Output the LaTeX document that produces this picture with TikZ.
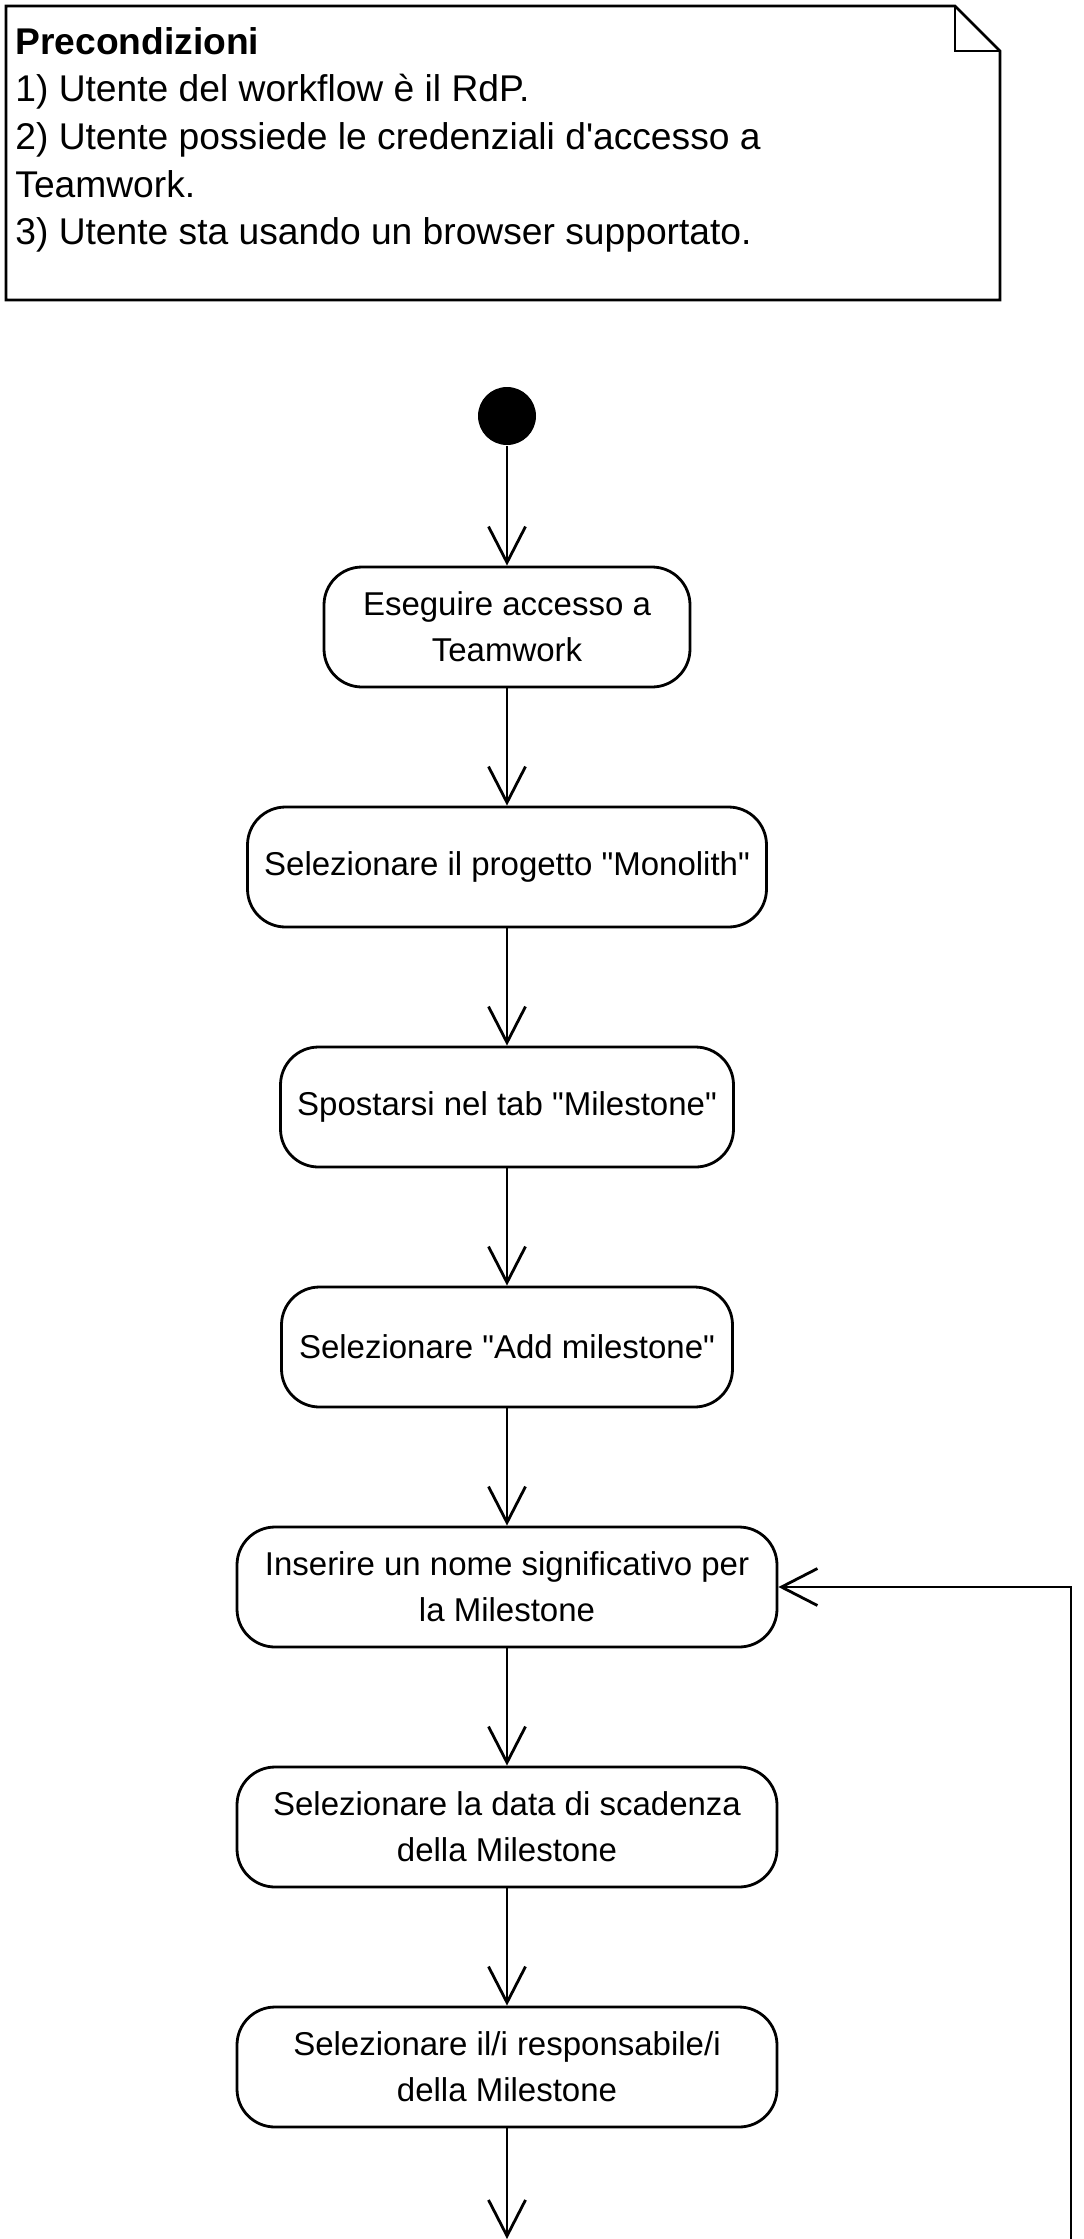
\documentclass[tikz,border=0pt]{standalone}
\usepackage{fontspec}
\setmainfont{Liberation Sans}
\usetikzlibrary{positioning,arrows.meta}

\begin{document}
\begin{tikzpicture}[
      x=0.5pt,
      y=-0.5pt,
      node distance=120pt,
      line width=1.4pt,
      attivita/.style={
        draw,
        rounded corners=19pt,
        minimum height=60pt,
        inner sep=0pt,
        align=center,
        font=\fontsize{16.5}{23}\selectfont
      },
      inizio/.style={
        circle,
        fill,
        minimum size=29pt,
        inner sep=0pt
      },
      freccia/.style={
        -{Straight Barb[length=18pt,width=18.5pt]}
      }
    ]
    \useasboundingbox (0,0) rectangle (1083,2239);
    \draw (6,6) -- (955,6) -- (1000,51) -- (1000,300) -- (6,300) -- cycle;
    \draw (955,6) -- (955,51) -- (1000,51);
    \node[anchor=north west, inner sep=0pt, align=left,
      font=\fontsize{18.6}{23.8}\selectfont] (prec) at (14,26)
      {\textbf{Precondizioni}\\
       1) Utente del workflow è il RdP.\\
       2) Utente possiede le credenziali d\textquotesingle accesso a\\
       Teamwork.\\
       3) Utente sta usando un browser supportato.};
    \node[inizio] (init) at (507,416) {};
    \node[attivita, minimum width=183pt] (a1) at (507,627) {Eseguire accesso a\\Teamwork};
    \node[attivita, minimum width=259.5pt, below of=a1] (a2) {Selezionare il progetto \textquotedbl Monolith\textquotedbl};
    \node[attivita, minimum width=226.5pt, below of=a2] (a3) {Spostarsi nel tab \textquotedbl Milestone\textquotedbl};
    \node[attivita, minimum width=225.5pt, below of=a3] (a4) {Selezionare \textquotedbl Add milestone\textquotedbl};
    \node[attivita, minimum width=270pt, below of=a4] (a5) {Inserire un nome significativo per\\la Milestone};
    \node[attivita, minimum width=270pt, below of=a5] (a6) {Selezionare la data di scadenza\\della Milestone};
    \node[attivita, minimum width=270pt, below of=a6] (a7) {Selezionare il/i responsabile/i\\della Milestone};
    \coordinate (fine) at (507,2239);
    \coordinate (ritorno) at (1071,2239);
    \draw[freccia] (init) -- (a1);
    \draw[freccia] (a1) -- (a2);
    \draw[freccia] (a2) -- (a3);
    \draw[freccia] (a3) -- (a4);
    \draw[freccia] (a4) -- (a5);
    \draw[freccia] (a5) -- (a6);
    \draw[freccia] (a6) -- (a7);
    \draw[freccia] (a7) -- (fine);
    \draw[freccia] (ritorno) |- (a5);
  \end{tikzpicture}
\end{document}
